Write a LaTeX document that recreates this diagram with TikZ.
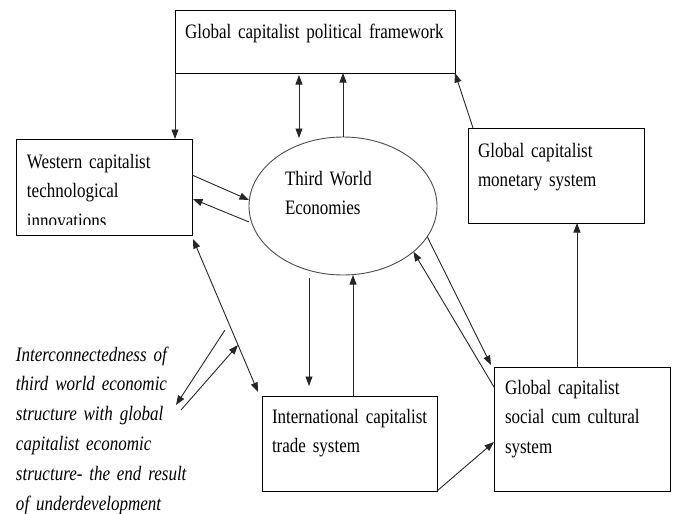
\documentclass[tikz,border=0pt]{standalone}
\usepackage{fontspec}
\setmainfont[FakeStretch=0.83, WordSpace=0.8]{Liberation Serif}
\usetikzlibrary{arrows.meta,shapes.geometric,calc}
\begin{document}
\begin{tikzpicture}[x=1pt,y=-1pt,
  every node/.style={inner sep=0pt, outer sep=0pt},
  framebox/.style={draw, rectangle, line width=1pt, anchor=north west},
  boxtext/.style={anchor=base west, align=left, text width=#1,
    font=\fontsize{20.5}{29.8}\selectfont},
  notetext/.style={anchor=base west, align=left, text width=#1,
    font=\fontsize{20.5}{29.8}\selectfont\itshape},
  tip/.tip={Triangle[length=9.5pt,width=7pt]},
  arr/.style={-tip, line width=0.9pt, draw=black!85},
  darr/.style={tip-tip, line width=0.9pt, draw=black!85}]
\useasboundingbox (0,0) rectangle (673,514);

% boxes and their labels
\node[framebox, minimum width=280, minimum height=63] (top) at (175,10) {};
\node[boxtext=270] (toptext) at (185,38) {Global capitalist political framework};

\node[framebox, minimum width=176, minimum height=96] (west) at (16,139) {};
\begin{scope}
  % the last line is cut off by the lower edge of its text area
  \clip (west.north west) rectangle ($(west.south east)+(0,-10.5)$);
  \node[boxtext=160] (westtext) at (27,168) {Western capitalist\\technological\\innovations};
\end{scope}

\node[draw=black!70, ellipse, line width=0.9pt, minimum width=188, minimum height=138] (tw) at (343,206) {};
\node[boxtext=120] (twtext) at (285,185) {Third World\\Economies};

\node[framebox, minimum width=176, minimum height=95] (mon) at (468,128) {};
\node[boxtext=160] (montext) at (478,157) {Global capitalist\\monetary system};

\node[framebox, minimum width=175, minimum height=95] (trade) at (262,396) {};
\node[boxtext=165] (tradetext) at (272,423) {International capitalist\\trade system};

\node[framebox, minimum width=176, minimum height=124] (soc) at (494,367) {};
\node[boxtext=165] (soctext) at (505,394) {Global capitalist\\social cum cultural\\system};

\node[notetext=175] (note) at (16,361) {Interconnectedness of\\third world economic\\structure with global\\capitalist economic\\structure- the end result\\of underdevelopment};

% connectors
\draw[arr] (top.south west) -- (top.south west |- west.north);
\draw[darr] ($(top.south west)+(124,2)$) -- ($(tw.north)+(-44,1)$);
\draw[arr] (tw.north) -- (tw.north |- top.south);
\draw[arr] ($(mon.north west)+(5,0)$) -- (top.south east);

\draw[arr] ($(west.north east)+(0,36)$) -- ($(tw.west)+(0,-6)$);
\draw[arr] ($(tw.west)+(0,16)$) -- ($(west.north east)+(1,60)$);

\draw[darr] ($(west.south east)+(1,4)$) -- ($(trade.north west)+(-4,-4)$);

\draw[arr] ($(tw.south)+(-34,3)$) -- ($(trade.north west)+(47,-10)$);
\draw[arr] ($(trade.north west)+(91,0)$) -- ($(tw.south)+(10,0)$);

\draw[arr] (trade.south east) -- ($(soc.south west)+(0,-49)$);
\draw[arr] ($(soc.north)+(-5,0)$) -- ($(mon.south)+(21,0)$);

\draw[arr] (tw.-20) -- ($(soc.north west)+(-3,-2)$);
\draw[arr] ($(soc.north west)+(0,20)$) -- (tw.-33);

% arrows linking the note to the west--trade link
\coordinate (na) at (225,330);
\coordinate (nb) at (176,405);
\coordinate (nc) at (181,410);
\coordinate (nd) at (238,345);
\draw[arr] (na) -- (nb);
\draw[arr] (nc) -- (nd);
\end{tikzpicture}
\end{document}
